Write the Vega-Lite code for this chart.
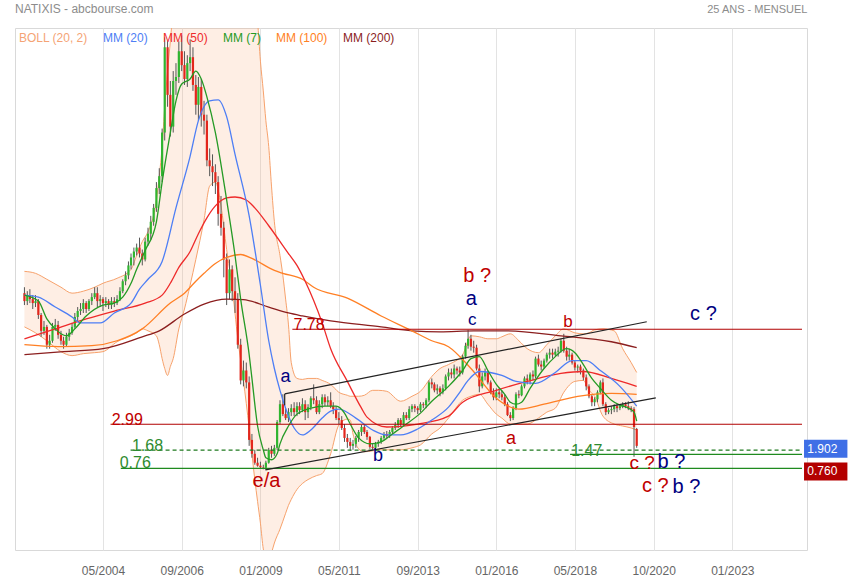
{
"$schema":"https://vega.github.io/schema/vega-lite/v6.json",
"width":792,"height":522,
"autosize":{"type":"none"},
"padding":{"left":15,"top":28,"right":48,"bottom":30},
"background":"#ffffff",
"title":{"text":"NATIXIS - abcbourse.com","anchor":"start","frame":"group","fontSize":12,"fontWeight":"normal","color":"#8c8c8c","font":"Liberation Sans","offset":-13},
"config":{"font":"Liberation Sans","view":{"stroke":"#d9d9d9","strokeWidth":1},"text":{"font":"Liberation Sans"},"legend":{"labelFont":"Liberation Sans"}},
"datasets":{
"candles":[
{"d":"2002-01","o":9.6,"h":9.9,"l":9.0,"c":9.2},{"d":"2002-02","o":9.2,"h":9.7,"l":9.0,"c":9.5},{"d":"2002-03","o":9.5,"h":9.8,"l":9.1,"c":9.3},{"d":"2002-04","o":9.3,"h":9.5,"l":8.8,"c":9.1},{"d":"2002-05","o":9.1,"h":9.5,"l":8.9,"c":9.2},{"d":"2002-06","o":9.2,"h":9.3,"l":8.3,"c":8.5},{"d":"2002-07","o":8.5,"h":8.6,"l":7.4,"c":7.7},{"d":"2002-08","o":7.7,"h":8.2,"l":7.5,"c":7.9},{"d":"2002-09","o":7.9,"h":8.0,"l":6.8,"c":7.0},{"d":"2002-10","o":7.0,"h":7.5,"l":6.8,"c":7.2},{"d":"2002-11","o":7.2,"h":8.1,"l":7.1,"c":7.9},{"d":"2002-12","o":7.9,"h":8.3,"l":7.7,"c":8.0},
{"d":"2003-01","o":8.0,"h":8.2,"l":7.3,"c":7.5},{"d":"2003-02","o":7.5,"h":7.7,"l":7.0,"c":7.2},{"d":"2003-03","o":7.2,"h":7.4,"l":6.8,"c":7.0},{"d":"2003-04","o":7.0,"h":7.6,"l":6.9,"c":7.4},{"d":"2003-05","o":7.4,"h":7.8,"l":7.2,"c":7.6},{"d":"2003-06","o":7.6,"h":8.1,"l":7.5,"c":7.9},{"d":"2003-07","o":7.9,"h":8.6,"l":7.8,"c":8.4},{"d":"2003-08","o":8.4,"h":8.9,"l":8.2,"c":8.7},{"d":"2003-09","o":8.7,"h":9.1,"l":8.5,"c":8.8},{"d":"2003-10","o":8.8,"h":9.3,"l":8.6,"c":9.1},{"d":"2003-11","o":9.1,"h":9.2,"l":8.6,"c":8.8},{"d":"2003-12","o":8.8,"h":9.3,"l":8.7,"c":9.2},
{"d":"2004-01","o":9.2,"h":9.6,"l":9.0,"c":9.4},{"d":"2004-02","o":9.4,"h":9.9,"l":9.3,"c":9.6},{"d":"2004-03","o":9.6,"h":9.9,"l":8.9,"c":9.2},{"d":"2004-04","o":9.2,"h":9.5,"l":8.9,"c":9.3},{"d":"2004-05","o":9.3,"h":9.4,"l":8.7,"c":9.1},{"d":"2004-06","o":9.1,"h":9.4,"l":8.9,"c":9.2},{"d":"2004-07","o":9.2,"h":9.3,"l":8.8,"c":9.0},{"d":"2004-08","o":9.0,"h":9.4,"l":8.8,"c":9.2},{"d":"2004-09","o":9.2,"h":9.4,"l":8.9,"c":9.1},{"d":"2004-10","o":9.1,"h":9.5,"l":9.0,"c":9.3},{"d":"2004-11","o":9.3,"h":9.9,"l":9.2,"c":9.7},{"d":"2004-12","o":9.7,"h":10.3,"l":9.6,"c":10.2},
{"d":"2005-01","o":10.2,"h":10.7,"l":10.0,"c":10.5},{"d":"2005-02","o":10.5,"h":11.2,"l":10.3,"c":11.0},{"d":"2005-03","o":11.0,"h":11.6,"l":10.8,"c":11.4},{"d":"2005-04","o":11.4,"h":11.9,"l":11.0,"c":11.7},{"d":"2005-05","o":11.7,"h":12.1,"l":11.5,"c":11.9},{"d":"2005-06","o":11.9,"h":12.4,"l":11.4,"c":11.6},{"d":"2005-07","o":11.6,"h":11.8,"l":11.0,"c":11.3},{"d":"2005-08","o":11.3,"h":12.4,"l":11.2,"c":12.2},{"d":"2005-09","o":12.2,"h":12.9,"l":12.0,"c":12.6},{"d":"2005-10","o":12.6,"h":13.5,"l":12.3,"c":13.2},{"d":"2005-11","o":13.2,"h":14.1,"l":13.0,"c":13.9},{"d":"2005-12","o":13.9,"h":15.2,"l":13.7,"c":14.9},
{"d":"2006-01","o":14.9,"h":15.9,"l":14.6,"c":15.5},{"d":"2006-02","o":15.5,"h":17.9,"l":15.2,"c":17.7},{"d":"2006-03","o":17.7,"h":22.5,"l":17.3,"c":22.0},{"d":"2006-04","o":22.0,"h":22.3,"l":19.0,"c":19.6},{"d":"2006-05","o":19.6,"h":20.3,"l":17.5,"c":18.0},{"d":"2006-06","o":18.0,"h":20.8,"l":17.7,"c":20.3},{"d":"2006-07","o":20.3,"h":21.2,"l":19.6,"c":20.5},{"d":"2006-08","o":20.5,"h":22.3,"l":20.2,"c":21.8},{"d":"2006-09","o":21.8,"h":22.6,"l":20.8,"c":21.1},{"d":"2006-10","o":21.1,"h":21.8,"l":20.1,"c":20.4},{"d":"2006-11","o":20.4,"h":21.6,"l":20.0,"c":21.2},{"d":"2006-12","o":21.2,"h":22.4,"l":20.8,"c":21.5},
{"d":"2007-01","o":21.5,"h":22.0,"l":19.8,"c":20.1},{"d":"2007-02","o":20.1,"h":20.6,"l":18.6,"c":19.1},{"d":"2007-03","o":19.1,"h":20.5,"l":18.3,"c":20.0},{"d":"2007-04","o":20.0,"h":20.4,"l":18.0,"c":18.6},{"d":"2007-05","o":18.6,"h":19.3,"l":17.6,"c":18.3},{"d":"2007-06","o":18.3,"h":18.6,"l":16.0,"c":16.3},{"d":"2007-07","o":16.3,"h":16.9,"l":15.5,"c":16.0},{"d":"2007-08","o":16.0,"h":16.6,"l":15.0,"c":15.7},{"d":"2007-09","o":15.7,"h":16.1,"l":14.6,"c":15.2},{"d":"2007-10","o":15.2,"h":15.5,"l":13.0,"c":13.6},{"d":"2007-11","o":13.6,"h":14.5,"l":12.5,"c":12.9},{"d":"2007-12","o":12.9,"h":13.2,"l":10.4,"c":11.3},
{"d":"2008-01","o":11.3,"h":11.6,"l":9.0,"c":9.6},{"d":"2008-02","o":9.6,"h":11.3,"l":9.3,"c":10.8},{"d":"2008-03","o":10.8,"h":11.0,"l":9.2,"c":9.7},{"d":"2008-04","o":9.7,"h":10.4,"l":8.6,"c":9.3},{"d":"2008-05","o":9.3,"h":9.6,"l":6.8,"c":7.0},{"d":"2008-06","o":7.0,"h":7.3,"l":5.0,"c":5.2},{"d":"2008-07","o":5.2,"h":6.2,"l":4.9,"c":5.7},{"d":"2008-08","o":5.7,"h":6.1,"l":4.8,"c":5.1},{"d":"2008-09","o":5.1,"h":5.4,"l":1.9,"c":2.2},{"d":"2008-10","o":2.2,"h":2.5,"l":1.3,"c":1.5},{"d":"2008-11","o":1.5,"h":1.7,"l":0.95,"c":1.05},{"d":"2008-12","o":1.05,"h":1.3,"l":0.85,"c":0.9},
{"d":"2009-01","o":0.9,"h":1.1,"l":0.78,"c":0.82},{"d":"2009-02","o":0.82,"h":0.95,"l":0.72,"c":0.8},{"d":"2009-03","o":0.8,"h":1.15,"l":0.7,"c":1.05},{"d":"2009-04","o":1.05,"h":1.8,"l":1.0,"c":1.7},{"d":"2009-05","o":1.7,"h":1.9,"l":1.3,"c":1.5},{"d":"2009-06","o":1.5,"h":1.95,"l":1.4,"c":1.8},{"d":"2009-07","o":1.8,"h":3.2,"l":1.7,"c":3.1},{"d":"2009-08","o":3.1,"h":4.2,"l":3.0,"c":4.0},{"d":"2009-09","o":4.0,"h":4.5,"l":3.4,"c":3.5},{"d":"2009-10","o":3.5,"h":3.8,"l":3.2,"c":3.3},{"d":"2009-11","o":3.3,"h":3.8,"l":3.1,"c":3.6},{"d":"2009-12","o":3.6,"h":4.0,"l":3.4,"c":3.8},
{"d":"2010-01","o":3.8,"h":4.1,"l":3.4,"c":3.6},{"d":"2010-02","o":3.6,"h":4.1,"l":3.4,"c":3.9},{"d":"2010-03","o":3.9,"h":4.1,"l":3.5,"c":3.7},{"d":"2010-04","o":3.7,"h":4.3,"l":3.6,"c":4.0},{"d":"2010-05","o":4.0,"h":4.2,"l":3.2,"c":3.6},{"d":"2010-06","o":3.6,"h":4.0,"l":3.3,"c":3.85},{"d":"2010-07","o":3.85,"h":4.4,"l":3.7,"c":4.3},{"d":"2010-08","o":4.3,"h":5.0,"l":4.0,"c":4.2},{"d":"2010-09","o":4.2,"h":4.4,"l":3.5,"c":3.6},{"d":"2010-10","o":3.6,"h":4.2,"l":3.5,"c":4.0},{"d":"2010-11","o":4.0,"h":4.5,"l":3.8,"c":4.35},{"d":"2010-12","o":4.35,"h":4.5,"l":3.9,"c":4.1},
{"d":"2011-01","o":4.1,"h":4.4,"l":3.9,"c":4.2},{"d":"2011-02","o":4.2,"h":4.6,"l":3.8,"c":3.9},{"d":"2011-03","o":3.9,"h":4.1,"l":3.5,"c":3.75},{"d":"2011-04","o":3.75,"h":3.9,"l":3.2,"c":3.3},{"d":"2011-05","o":3.3,"h":3.6,"l":3.0,"c":3.2},{"d":"2011-06","o":3.2,"h":3.4,"l":2.7,"c":2.8},{"d":"2011-07","o":2.8,"h":3.0,"l":2.1,"c":2.3},{"d":"2011-08","o":2.3,"h":2.5,"l":1.8,"c":2.1},{"d":"2011-09","o":2.1,"h":2.3,"l":1.65,"c":1.9},{"d":"2011-10","o":1.9,"h":2.2,"l":1.7,"c":2.0},{"d":"2011-11","o":2.0,"h":2.4,"l":1.8,"c":2.3},{"d":"2011-12","o":2.3,"h":2.7,"l":2.1,"c":2.6},
{"d":"2012-01","o":2.6,"h":2.95,"l":2.4,"c":2.85},{"d":"2012-02","o":2.85,"h":3.0,"l":2.5,"c":2.6},{"d":"2012-03","o":2.6,"h":2.7,"l":2.2,"c":2.35},{"d":"2012-04","o":2.35,"h":2.4,"l":1.75,"c":1.85},{"d":"2012-05","o":1.85,"h":2.0,"l":1.7,"c":1.8},{"d":"2012-06","o":1.8,"h":2.1,"l":1.7,"c":2.0},{"d":"2012-07","o":2.0,"h":2.2,"l":1.85,"c":2.1},{"d":"2012-08","o":2.1,"h":2.4,"l":2.0,"c":2.3},{"d":"2012-09","o":2.3,"h":2.6,"l":2.2,"c":2.5},{"d":"2012-10","o":2.5,"h":2.65,"l":2.3,"c":2.4},{"d":"2012-11","o":2.4,"h":2.7,"l":2.3,"c":2.6},{"d":"2012-12","o":2.6,"h":2.9,"l":2.5,"c":2.8},
{"d":"2013-01","o":2.8,"h":3.1,"l":2.7,"c":2.95},{"d":"2013-02","o":2.95,"h":3.3,"l":2.8,"c":3.2},{"d":"2013-03","o":3.2,"h":3.3,"l":2.9,"c":3.0},{"d":"2013-04","o":3.0,"h":3.6,"l":2.9,"c":3.45},{"d":"2013-05","o":3.45,"h":3.6,"l":3.2,"c":3.3},{"d":"2013-06","o":3.3,"h":3.9,"l":3.2,"c":3.75},{"d":"2013-07","o":3.75,"h":4.0,"l":3.6,"c":3.9},{"d":"2013-08","o":3.9,"h":4.0,"l":3.6,"c":3.8},{"d":"2013-09","o":3.8,"h":3.9,"l":3.5,"c":3.7},{"d":"2013-10","o":3.7,"h":4.1,"l":3.6,"c":4.0},{"d":"2013-11","o":4.0,"h":4.1,"l":3.8,"c":3.95},{"d":"2013-12","o":3.95,"h":4.3,"l":3.8,"c":4.2},
{"d":"2014-01","o":4.2,"h":5.2,"l":4.1,"c":5.1},{"d":"2014-02","o":5.1,"h":5.3,"l":4.8,"c":5.0},{"d":"2014-03","o":5.0,"h":5.1,"l":4.6,"c":4.7},{"d":"2014-04","o":4.7,"h":5.0,"l":4.5,"c":4.8},{"d":"2014-05","o":4.8,"h":4.9,"l":4.4,"c":4.6},{"d":"2014-06","o":4.6,"h":5.0,"l":4.5,"c":4.8},{"d":"2014-07","o":4.8,"h":5.5,"l":4.7,"c":5.4},{"d":"2014-08","o":5.4,"h":5.8,"l":5.2,"c":5.6},{"d":"2014-09","o":5.6,"h":5.8,"l":5.3,"c":5.5},{"d":"2014-10","o":5.5,"h":6.0,"l":5.3,"c":5.8},{"d":"2014-11","o":5.8,"h":5.9,"l":5.5,"c":5.7},{"d":"2014-12","o":5.7,"h":5.9,"l":5.4,"c":5.6},
{"d":"2015-01","o":5.6,"h":6.5,"l":5.5,"c":6.4},{"d":"2015-02","o":6.4,"h":7.1,"l":6.3,"c":6.95},{"d":"2015-03","o":6.95,"h":7.75,"l":6.8,"c":7.3},{"d":"2015-04","o":7.3,"h":7.5,"l":6.7,"c":6.9},{"d":"2015-05","o":6.9,"h":7.2,"l":6.6,"c":6.85},{"d":"2015-06","o":6.85,"h":7.0,"l":5.7,"c":5.8},{"d":"2015-07","o":5.8,"h":6.0,"l":4.6,"c":4.9},{"d":"2015-08","o":4.9,"h":5.6,"l":4.8,"c":5.4},{"d":"2015-09","o":5.4,"h":5.8,"l":5.2,"c":5.6},{"d":"2015-10","o":5.6,"h":5.7,"l":5.0,"c":5.1},{"d":"2015-11","o":5.1,"h":5.2,"l":4.5,"c":4.6},{"d":"2015-12","o":4.6,"h":4.8,"l":4.2,"c":4.35},
{"d":"2016-01","o":4.35,"h":4.8,"l":4.2,"c":4.6},{"d":"2016-02","o":4.6,"h":4.8,"l":4.3,"c":4.5},{"d":"2016-03","o":4.5,"h":4.7,"l":4.2,"c":4.35},{"d":"2016-04","o":4.35,"h":4.5,"l":3.9,"c":4.0},{"d":"2016-05","o":4.0,"h":4.1,"l":3.4,"c":3.45},{"d":"2016-06","o":3.45,"h":3.6,"l":3.15,"c":3.3},{"d":"2016-07","o":3.3,"h":3.9,"l":3.2,"c":3.8},{"d":"2016-08","o":3.8,"h":4.6,"l":3.7,"c":4.5},{"d":"2016-09","o":4.5,"h":4.7,"l":4.3,"c":4.45},{"d":"2016-10","o":4.45,"h":5.0,"l":4.4,"c":4.9},{"d":"2016-11","o":4.9,"h":5.4,"l":4.8,"c":5.3},{"d":"2016-12","o":5.3,"h":5.5,"l":5.0,"c":5.2},
{"d":"2017-01","o":5.2,"h":5.6,"l":5.0,"c":5.5},{"d":"2017-02","o":5.5,"h":5.7,"l":5.2,"c":5.4},{"d":"2017-03","o":5.4,"h":6.4,"l":5.3,"c":6.3},{"d":"2017-04","o":6.3,"h":6.5,"l":5.9,"c":6.0},{"d":"2017-05","o":6.0,"h":6.2,"l":5.7,"c":5.9},{"d":"2017-06","o":5.9,"h":6.3,"l":5.8,"c":6.2},{"d":"2017-07","o":6.2,"h":6.6,"l":6.1,"c":6.5},{"d":"2017-08","o":6.5,"h":6.8,"l":6.3,"c":6.6},{"d":"2017-09","o":6.6,"h":6.8,"l":6.3,"c":6.5},{"d":"2017-10","o":6.5,"h":6.8,"l":6.4,"c":6.65},{"d":"2017-11","o":6.65,"h":6.9,"l":6.4,"c":6.7},{"d":"2017-12","o":6.7,"h":7.3,"l":6.6,"c":7.2},
{"d":"2018-01","o":7.2,"h":7.55,"l":6.6,"c":6.7},{"d":"2018-02","o":6.7,"h":6.9,"l":6.2,"c":6.4},{"d":"2018-03","o":6.4,"h":6.8,"l":6.2,"c":6.5},{"d":"2018-04","o":6.5,"h":6.6,"l":6.0,"c":6.1},{"d":"2018-05","o":6.1,"h":6.2,"l":5.7,"c":5.85},{"d":"2018-06","o":5.85,"h":6.0,"l":5.6,"c":5.9},{"d":"2018-07","o":5.9,"h":6.0,"l":5.5,"c":5.7},{"d":"2018-08","o":5.7,"h":5.8,"l":5.2,"c":5.35},{"d":"2018-09","o":5.35,"h":5.5,"l":4.7,"c":4.9},{"d":"2018-10","o":4.9,"h":5.0,"l":4.3,"c":4.4},{"d":"2018-11","o":4.4,"h":4.5,"l":3.9,"c":4.1},{"d":"2018-12","o":4.1,"h":4.35,"l":3.9,"c":4.25},
{"d":"2019-01","o":4.25,"h":4.7,"l":4.1,"c":4.6},{"d":"2019-02","o":4.6,"h":5.2,"l":4.5,"c":5.1},{"d":"2019-03","o":5.1,"h":5.3,"l":3.9,"c":4.0},{"d":"2019-04","o":4.0,"h":4.1,"l":3.45,"c":3.6},{"d":"2019-05","o":3.6,"h":3.8,"l":3.5,"c":3.7},{"d":"2019-06","o":3.7,"h":3.9,"l":3.5,"c":3.75},{"d":"2019-07","o":3.75,"h":4.0,"l":3.6,"c":3.9},{"d":"2019-08","o":3.9,"h":4.0,"l":3.6,"c":3.8},{"d":"2019-09","o":3.8,"h":4.0,"l":3.7,"c":3.9},{"d":"2019-10","o":3.9,"h":4.1,"l":3.8,"c":4.0},{"d":"2019-11","o":4.0,"h":4.1,"l":3.8,"c":3.9},{"d":"2019-12","o":3.9,"h":4.15,"l":3.7,"c":3.8},
{"d":"2020-01","o":3.8,"h":3.9,"l":3.6,"c":3.75},{"d":"2020-02","o":3.75,"h":3.85,"l":1.35,"c":2.85},{"d":"2020-03","o":2.75,"h":2.8,"l":1.8,"c":1.9}
],
"boll":[
{"d":"2002-01","lo":7.9,"up":10.7},{"d":"2002-05","lo":7.6,"up":10.6},{"d":"2002-09","lo":7.2,"up":10.3},{"d":"2003-02","lo":6.65,"up":9.9},{"d":"2003-06","lo":6.45,"up":9.6},{"d":"2003-10","lo":6.55,"up":9.7},{"d":"2004-02","lo":6.6,"up":9.9},{"d":"2004-05","lo":6.65,"up":10.1},{"d":"2004-10","lo":7.15,"up":10.35},{"d":"2005-03","lo":7.45,"up":10.8},{"d":"2005-05","lo":7.6,"up":11.5},{"d":"2005-07","lo":7.8,"up":12.2},{"d":"2005-09","lo":7.7,"up":12.7},{"d":"2005-12","lo":7.45,"up":14.3},{"d":"2006-01","lo":7.0,"up":15.5},{"d":"2006-02","lo":6.3,"up":17.0},{"d":"2006-03","lo":5.8,"up":19.0},{"d":"2006-04","lo":5.45,"up":20.8},{"d":"2006-05","lo":5.9,"up":22.3},{"d":"2006-06","lo":6.3,"up":24.0},{"d":"2006-08","lo":7.8,"up":26.0},{"d":"2006-10","lo":8.8,"up":27.5},{"d":"2006-12","lo":10.0,"up":28.5},{"d":"2007-02","lo":11.3,"up":29.0},{"d":"2007-05","lo":13.3,"up":29.0},{"d":"2007-07","lo":15.0,"up":28.5},{"d":"2007-09","lo":15.2,"up":28.0},{"d":"2007-11","lo":14.0,"up":27.5},{"d":"2008-01","lo":11.8,"up":27.5},{"d":"2008-03","lo":9.9,"up":27.5},{"d":"2008-05","lo":7.3,"up":27.5},{"d":"2008-07","lo":5.2,"up":27.0},{"d":"2008-09","lo":2.8,"up":26.0},{"d":"2008-11","lo":0.2,"up":24.5},{"d":"2008-12","lo":-0.9,"up":23.3},{"d":"2009-01","lo":-2.0,"up":21.3},{"d":"2009-02","lo":-3.3,"up":19.8},{"d":"2009-03","lo":-3.8,"up":18.3},{"d":"2009-04","lo":-3.9,"up":17.0},{"d":"2009-05","lo":-3.5,"up":15.0},{"d":"2009-06","lo":-3.0,"up":13.2},{"d":"2009-08","lo":-2.3,"up":11.5},{"d":"2009-09","lo":-1.9,"up":10.5},{"d":"2009-10","lo":-1.5,"up":9.3},{"d":"2009-11","lo":-1.1,"up":8.0},{"d":"2009-12","lo":-0.8,"up":6.1},{"d":"2010-02","lo":-0.3,"up":5.3},{"d":"2010-04","lo":0.0,"up":5.25},{"d":"2010-06","lo":0.2,"up":5.3},{"d":"2010-09","lo":0.4,"up":5.3},{"d":"2010-11","lo":0.5,"up":5.2},{"d":"2011-02","lo":1.5,"up":5.0},{"d":"2011-05","lo":2.95,"up":4.6},{"d":"2011-08","lo":3.25,"up":4.45},{"d":"2011-09","lo":3.2,"up":4.4},{"d":"2011-10","lo":2.5,"up":4.4},{"d":"2011-12","lo":1.75,"up":4.4},{"d":"2012-02","lo":1.6,"up":4.45},{"d":"2012-05","lo":1.65,"up":4.7},{"d":"2012-07","lo":1.7,"up":4.7},{"d":"2012-10","lo":1.7,"up":4.65},{"d":"2013-03","lo":1.7,"up":4.15},{"d":"2013-07","lo":1.8,"up":4.4},{"d":"2013-10","lo":1.95,"up":4.65},{"d":"2014-02","lo":2.5,"up":5.4},{"d":"2014-05","lo":2.8,"up":5.8},{"d":"2014-08","lo":3.3,"up":6.0},{"d":"2015-01","lo":4.2,"up":6.5},{"d":"2015-04","lo":4.4,"up":7.45},{"d":"2015-07","lo":4.5,"up":7.4},{"d":"2015-10","lo":4.0,"up":7.3},{"d":"2016-01","lo":3.5,"up":7.3},{"d":"2016-03","lo":3.3,"up":7.4},{"d":"2016-06","lo":3.0,"up":7.55},{"d":"2016-09","lo":3.0,"up":7.2},{"d":"2016-12","lo":3.0,"up":6.8},{"d":"2017-04","lo":3.3,"up":6.6},{"d":"2017-07","lo":3.6,"up":7.0},{"d":"2017-10","lo":3.8,"up":7.45},{"d":"2018-01","lo":4.6,"up":7.8},{"d":"2018-05","lo":5.15,"up":7.6},{"d":"2018-08","lo":5.2,"up":7.55},{"d":"2018-10","lo":4.7,"up":7.6},{"d":"2018-12","lo":4.4,"up":7.75},{"d":"2019-03","lo":3.4,"up":7.8},{"d":"2019-07","lo":3.0,"up":7.7},{"d":"2019-10","lo":2.9,"up":6.8},{"d":"2020-01","lo":2.8,"up":6.1},{"d":"2020-03","lo":2.7,"up":5.6}
],
"ma":[
{"s":"MM (200)","d":"2002-01","v":6.5},{"s":"MM (200)","d":"2003-03","v":6.65},{"s":"MM (200)","d":"2004-05","v":6.8},{"s":"MM (200)","d":"2005-07","v":7.4},{"s":"MM (200)","d":"2006-01","v":7.7},{"s":"MM (200)","d":"2006-10","v":8.55},{"s":"MM (200)","d":"2007-05","v":9.05},{"s":"MM (200)","d":"2008-01","v":9.3},{"s":"MM (200)","d":"2008-07","v":9.27},{"s":"MM (200)","d":"2009-04","v":8.9},{"s":"MM (200)","d":"2009-11","v":8.6},{"s":"MM (200)","d":"2010-04","v":8.45},{"s":"MM (200)","d":"2011-02","v":8.2},{"s":"MM (200)","d":"2012-08","v":7.9},{"s":"MM (200)","d":"2013-07","v":7.7},{"s":"MM (200)","d":"2014-05","v":7.65},{"s":"MM (200)","d":"2015-05","v":7.7},{"s":"MM (200)","d":"2016-04","v":7.7},{"s":"MM (200)","d":"2017-12","v":7.45},{"s":"MM (200)","d":"2019-06","v":7.15},{"s":"MM (200)","d":"2020-03","v":6.85},
{"s":"MM (100)","d":"2002-01","v":7.0},{"s":"MM (100)","d":"2003-01","v":6.9},{"s":"MM (100)","d":"2004-01","v":6.95},{"s":"MM (100)","d":"2004-10","v":7.2},{"s":"MM (100)","d":"2005-07","v":7.8},{"s":"MM (100)","d":"2006-05","v":9.1},{"s":"MM (100)","d":"2006-10","v":9.6},{"s":"MM (100)","d":"2007-02","v":10.2},{"s":"MM (100)","d":"2007-05","v":10.6},{"s":"MM (100)","d":"2007-09","v":11.1},{"s":"MM (100)","d":"2008-01","v":11.4},{"s":"MM (100)","d":"2008-06","v":11.55},{"s":"MM (100)","d":"2008-10","v":11.35},{"s":"MM (100)","d":"2009-06","v":10.75},{"s":"MM (100)","d":"2009-09","v":10.6},{"s":"MM (100)","d":"2010-04","v":10.3},{"s":"MM (100)","d":"2010-08","v":9.9},{"s":"MM (100)","d":"2011-08","v":9.35},{"s":"MM (100)","d":"2012-08","v":8.45},{"s":"MM (100)","d":"2013-07","v":7.7},{"s":"MM (100)","d":"2014-02","v":7.2},{"s":"MM (100)","d":"2014-08","v":6.9},{"s":"MM (100)","d":"2015-04","v":5.8},{"s":"MM (100)","d":"2016-01","v":4.3},{"s":"MM (100)","d":"2016-09","v":3.75},{"s":"MM (100)","d":"2017-06","v":4.0},{"s":"MM (100)","d":"2018-06","v":4.4},{"s":"MM (100)","d":"2019-06","v":4.55},{"s":"MM (100)","d":"2020-03","v":4.5},
{"s":"MM (50)","d":"2002-01","v":7.3},{"s":"MM (50)","d":"2002-12","v":7.8},{"s":"MM (50)","d":"2003-11","v":8.3},{"s":"MM (50)","d":"2004-09","v":8.7},{"s":"MM (50)","d":"2005-08","v":9.1},{"s":"MM (50)","d":"2006-02","v":9.5},{"s":"MM (50)","d":"2006-05","v":10.1},{"s":"MM (50)","d":"2006-08","v":10.9},{"s":"MM (50)","d":"2006-12","v":11.7},{"s":"MM (50)","d":"2007-03","v":12.6},{"s":"MM (50)","d":"2007-06","v":13.4},{"s":"MM (50)","d":"2007-09","v":14.0},{"s":"MM (50)","d":"2008-01","v":14.4},{"s":"MM (50)","d":"2008-04","v":14.45},{"s":"MM (50)","d":"2008-08","v":14.3},{"s":"MM (50)","d":"2008-11","v":13.9},{"s":"MM (50)","d":"2009-04","v":13.0},{"s":"MM (50)","d":"2009-11","v":11.6},{"s":"MM (50)","d":"2010-02","v":11.0},{"s":"MM (50)","d":"2010-05","v":10.2},{"s":"MM (50)","d":"2010-11","v":8.1},{"s":"MM (50)","d":"2011-02","v":6.8},{"s":"MM (50)","d":"2011-08","v":5.15},{"s":"MM (50)","d":"2012-01","v":3.8},{"s":"MM (50)","d":"2012-03","v":3.35},{"s":"MM (50)","d":"2012-10","v":2.85},{"s":"MM (50)","d":"2013-09","v":3.0},{"s":"MM (50)","d":"2014-08","v":3.4},{"s":"MM (50)","d":"2015-01","v":4.1},{"s":"MM (50)","d":"2016-01","v":4.7},{"s":"MM (50)","d":"2016-12","v":5.15},{"s":"MM (50)","d":"2017-12","v":5.55},{"s":"MM (50)","d":"2018-08","v":5.65},{"s":"MM (50)","d":"2019-06","v":5.3},{"s":"MM (50)","d":"2020-03","v":4.9},
{"s":"MM (20)","d":"2002-01","v":9.5},{"s":"MM (20)","d":"2002-06","v":9.4},{"s":"MM (20)","d":"2002-12","v":8.9},{"s":"MM (20)","d":"2003-06","v":8.4},{"s":"MM (20)","d":"2003-09","v":8.1},{"s":"MM (20)","d":"2004-04","v":8.1},{"s":"MM (20)","d":"2004-09","v":8.6},{"s":"MM (20)","d":"2005-03","v":9.1},{"s":"MM (20)","d":"2005-06","v":9.8},{"s":"MM (20)","d":"2005-09","v":10.3},{"s":"MM (20)","d":"2006-02","v":11.2},{"s":"MM (20)","d":"2006-07","v":13.9},{"s":"MM (20)","d":"2006-12","v":16.5},{"s":"MM (20)","d":"2007-03","v":18.3},{"s":"MM (20)","d":"2007-07","v":19.3},{"s":"MM (20)","d":"2007-10","v":19.35},{"s":"MM (20)","d":"2008-01","v":18.5},{"s":"MM (20)","d":"2008-04","v":16.6},{"s":"MM (20)","d":"2008-09","v":13.5},{"s":"MM (20)","d":"2009-01","v":10.0},{"s":"MM (20)","d":"2009-04","v":7.2},{"s":"MM (20)","d":"2009-06","v":5.8},{"s":"MM (20)","d":"2009-08","v":4.7},{"s":"MM (20)","d":"2009-10","v":3.8},{"s":"MM (20)","d":"2010-01","v":2.8},{"s":"MM (20)","d":"2010-04","v":2.45},{"s":"MM (20)","d":"2010-07","v":2.7},{"s":"MM (20)","d":"2010-11","v":3.3},{"s":"MM (20)","d":"2011-02","v":3.65},{"s":"MM (20)","d":"2011-05","v":3.75},{"s":"MM (20)","d":"2011-11","v":3.3},{"s":"MM (20)","d":"2012-05","v":2.7},{"s":"MM (20)","d":"2012-10","v":2.45},{"s":"MM (20)","d":"2013-03","v":2.45},{"s":"MM (20)","d":"2013-09","v":2.75},{"s":"MM (20)","d":"2014-02","v":3.2},{"s":"MM (20)","d":"2014-08","v":3.85},{"s":"MM (20)","d":"2014-12","v":4.6},{"s":"MM (20)","d":"2015-03","v":5.2},{"s":"MM (20)","d":"2015-07","v":5.65},{"s":"MM (20)","d":"2016-03","v":5.45},{"s":"MM (20)","d":"2016-08","v":5.15},{"s":"MM (20)","d":"2017-03","v":5.05},{"s":"MM (20)","d":"2017-10","v":5.6},{"s":"MM (20)","d":"2018-04","v":6.2},{"s":"MM (20)","d":"2018-09","v":6.2},{"s":"MM (20)","d":"2019-02","v":5.7},{"s":"MM (20)","d":"2019-09","v":4.9},{"s":"MM (20)","d":"2020-03","v":3.9},
{"s":"MM (7)","d":"2002-01","v":9.5},{"s":"MM (7)","d":"2002-06","v":9.2},{"s":"MM (7)","d":"2002-09","v":8.3},{"s":"MM (7)","d":"2002-12","v":7.8},{"s":"MM (7)","d":"2003-02","v":7.55},{"s":"MM (7)","d":"2003-04","v":7.45},{"s":"MM (7)","d":"2003-07","v":7.8},{"s":"MM (7)","d":"2003-11","v":8.45},{"s":"MM (7)","d":"2004-05","v":9.0},{"s":"MM (7)","d":"2004-09","v":9.1},{"s":"MM (7)","d":"2004-12","v":9.4},{"s":"MM (7)","d":"2005-03","v":10.1},{"s":"MM (7)","d":"2005-05","v":10.8},{"s":"MM (7)","d":"2005-08","v":11.75},{"s":"MM (7)","d":"2005-12","v":13.2},{"s":"MM (7)","d":"2006-02","v":15.2},{"s":"MM (7)","d":"2006-05","v":17.7},{"s":"MM (7)","d":"2006-07","v":19.3},{"s":"MM (7)","d":"2006-09","v":20.15},{"s":"MM (7)","d":"2006-12","v":20.4},{"s":"MM (7)","d":"2007-02","v":20.8},{"s":"MM (7)","d":"2007-04","v":20.4},{"s":"MM (7)","d":"2007-06","v":19.5},{"s":"MM (7)","d":"2007-09","v":17.7},{"s":"MM (7)","d":"2008-01","v":14.3},{"s":"MM (7)","d":"2008-04","v":11.5},{"s":"MM (7)","d":"2008-06","v":9.3},{"s":"MM (7)","d":"2008-09","v":6.5},{"s":"MM (7)","d":"2008-10","v":5.3},{"s":"MM (7)","d":"2008-12","v":2.9},{"s":"MM (7)","d":"2009-02","v":1.7},{"s":"MM (7)","d":"2009-03","v":1.3},{"s":"MM (7)","d":"2009-05","v":1.2},{"s":"MM (7)","d":"2009-07","v":1.5},{"s":"MM (7)","d":"2009-08","v":2.0},{"s":"MM (7)","d":"2009-11","v":2.9},{"s":"MM (7)","d":"2010-02","v":3.5},{"s":"MM (7)","d":"2010-07","v":3.8},{"s":"MM (7)","d":"2010-12","v":3.9},{"s":"MM (7)","d":"2011-04","v":3.9},{"s":"MM (7)","d":"2011-07","v":3.55},{"s":"MM (7)","d":"2011-09","v":3.0},{"s":"MM (7)","d":"2011-12","v":2.3},{"s":"MM (7)","d":"2012-04","v":2.0},{"s":"MM (7)","d":"2012-08","v":2.1},{"s":"MM (7)","d":"2012-12","v":2.5},{"s":"MM (7)","d":"2013-05","v":3.0},{"s":"MM (7)","d":"2013-10","v":3.55},{"s":"MM (7)","d":"2014-02","v":4.15},{"s":"MM (7)","d":"2014-08","v":4.9},{"s":"MM (7)","d":"2015-01","v":5.7},{"s":"MM (7)","d":"2015-04","v":6.3},{"s":"MM (7)","d":"2015-07","v":6.4},{"s":"MM (7)","d":"2015-10","v":5.7},{"s":"MM (7)","d":"2016-01","v":5.0},{"s":"MM (7)","d":"2016-04","v":4.5},{"s":"MM (7)","d":"2016-06","v":4.1},{"s":"MM (7)","d":"2016-08","v":4.0},{"s":"MM (7)","d":"2016-10","v":4.1},{"s":"MM (7)","d":"2017-01","v":4.8},{"s":"MM (7)","d":"2017-06","v":5.8},{"s":"MM (7)","d":"2017-10","v":6.4},{"s":"MM (7)","d":"2018-02","v":6.8},{"s":"MM (7)","d":"2018-05","v":6.6},{"s":"MM (7)","d":"2018-08","v":6.0},{"s":"MM (7)","d":"2018-11","v":5.3},{"s":"MM (7)","d":"2019-02","v":4.8},{"s":"MM (7)","d":"2019-06","v":4.2},{"s":"MM (7)","d":"2019-09","v":3.95},{"s":"MM (7)","d":"2019-12","v":3.8},{"s":"MM (7)","d":"2020-02","v":3.6},{"s":"MM (7)","d":"2020-03","v":3.15}
],
"segs":[
{"k":"red","d":"2009-12-13","d2":"2025-01-25","v":7.78,"v2":7.78},
{"k":"red","d":"2004-07-22","d2":"2025-01-25","v":2.99,"v2":2.99},
{"k":"green","d":"2004-11-10","d2":"2025-01-25","v":0.76,"v2":0.76},
{"k":"green","d":"2018-03-10","d2":"2025-01-25","v":1.47,"v2":1.47},
{"k":"dash","d":"2005-02-24","d2":"2025-01-25","v":1.68,"v2":1.68},
{"k":"black","d":"2009-09-21","d2":"2020-06-18","v":4.52,"v2":8.16},
{"k":"black","d":"2009-02-24","d2":"2020-09-24","v":0.69,"v2":4.32},
{"k":"black","d":"2009-09-21","d2":"2009-09-21","v":4.52,"v2":3.95}
],
"ann":[
{"t":"b ?","d":"2015-06-07","v":10.45,"tone":"red","r":"l"},
{"t":"a","d":"2015-04-04","v":9.32,"tone":"navy","r":"l"},
{"t":"c","d":"2015-04-14","v":8.25,"tone":"navy","r":"xs"},
{"t":"b","d":"2018-02-15","v":8.15,"tone":"red","r":"xs"},
{"t":"c ?","d":"2022-02-22","v":8.53,"tone":"navy","r":"l"},
{"t":"7.78","d":"2010-06-12","v":8.0,"tone":"red","r":"lv"},
{"t":"a","d":"2009-10-01","v":5.36,"tone":"navy","r":"s"},
{"t":"2.99","d":"2005-01-19","v":3.2,"tone":"red","r":"lv"},
{"t":"1.68","d":"2005-08-26","v":1.9,"tone":"green","r":"lv"},
{"t":"0.76","d":"2005-04-16","v":1.02,"tone":"green","r":"lv"},
{"t":"e/a","d":"2009-03-07","v":0.11,"tone":"red","r":"l"},
{"t":"b","d":"2012-06-28","v":1.4,"tone":"navy","r":"s"},
{"t":"a","d":"2016-06-07","v":2.26,"tone":"red","r":"s"},
{"t":"1.47","d":"2018-09-07","v":1.65,"tone":"green","r":"lv"},
{"t":"c ?","d":"2020-04-28","v":1.02,"tone":"red","r":"m"},
{"t":"b ?","d":"2021-03-13","v":1.1,"tone":"navy","r":"l"},
{"t":"c ?","d":"2020-09-19","v":-0.1,"tone":"red","r":"l"},
{"t":"b ?","d":"2021-08-22","v":-0.17,"tone":"navy","r":"l"}
],
"last":[{"t":"1.902","v":1.902,"k":"blue"},{"t":"0.760","v":0.76,"k":"red"}]
},
"resolve":{"axis":{"x":"independent"}},
"layer":[
{"data":{"name":"boll"},"mark":{"type":"area","color":"#f9a36b","opacity":0.18,"interpolate":"monotone","clip":true},
"encoding":{
"x":{"field":"d","type":"temporal","scale":{"domain":[{"year":2001,"month":11,"date":14,"utc":true},{"year":2025,"month":1,"date":25,"utc":true}]},
"axis":{"orient":"bottom","values":[{"year":2004,"month":5,"date":1,"utc":true},{"year":2006,"month":9,"date":1,"utc":true},{"year":2009,"month":1,"date":1,"utc":true},{"year":2011,"month":5,"date":1,"utc":true},{"year":2013,"month":9,"date":1,"utc":true},{"year":2016,"month":1,"date":1,"utc":true},{"year":2018,"month":5,"date":1,"utc":true},{"year":2020,"month":9,"date":1,"utc":true},{"year":2023,"month":1,"date":1,"utc":true}],"labelExpr":"utcFormat(datum.value, '%m/%Y') == '09/2020' ? '10/2020' : utcFormat(datum.value, '%m/%Y')","title":null,"grid":true,"gridColor":"#e3e3e3","ticks":false,"domain":false,"labelColor":"#666666","labelFontSize":12,"labelPadding":15,"labelFont":"Liberation Sans","labelDx":3,"labelOverlap":false}},
"y":{"field":"lo","type":"quantitative","scale":{"domain":[-3.1,22.72],"nice":false,"zero":false},
"axis":{"orient":"right","values":[-2,0,2,4,6,8,10,12,14,16,18,20,22],"labelExpr":"datum.value >= 5 ? format(datum.value, '.2f') : replace(format(datum.value, '.3f'), '\u2212', '-')","title":null,"grid":true,"gridColor":"#e3e3e3","ticks":false,"domain":false,"labelColor":"#666666","labelFontSize":11,"labelPadding":5,"labelFont":"Liberation Sans","labelOverlap":false}},
"y2":{"field":"up"}}},
{"data":{"name":"boll"},"mark":{"type":"line","color":"#f7a26c","strokeWidth":1,"interpolate":"monotone","clip":true},
"encoding":{"x":{"field":"d","type":"temporal","axis":{"orient":"top","labels":false,"ticks":false,"domain":false,"grid":false,"title":"25 ANS - MENSUEL","titleAnchor":"end","titleAlign":"right","titleColor":"#8c8c8c","titleFontSize":11,"titleFontWeight":"normal","titleFont":"Liberation Sans","titlePadding":14}},"y":{"field":"up","type":"quantitative","axis":null}}},
{"data":{"name":"boll"},"mark":{"type":"line","color":"#f7a26c","strokeWidth":1,"interpolate":"monotone","clip":true},
"encoding":{"x":{"field":"d","type":"temporal","axis":null},"y":{"field":"lo","type":"quantitative","axis":null}}},
{"data":{"name":"candles"},"mark":{"type":"rule","color":"#555555","strokeWidth":1},
"encoding":{"x":{"field":"d","type":"temporal","axis":null},"y":{"field":"l","type":"quantitative","axis":null},"y2":{"field":"h"}}},
{"data":{"name":"candles"},"mark":{"type":"bar","size":2.2},
"encoding":{"x":{"field":"d","type":"temporal","axis":null},"y":{"field":"o","type":"quantitative","axis":null},"y2":{"field":"c"},
"color":{"condition":{"test":"datum.c >= datum.o","value":"#2fb52f"},"value":"#e3261c"}}},
{"data":{"name":"ma"},"mark":{"type":"line","strokeWidth":1.3,"interpolate":"monotone"},
"encoding":{"x":{"field":"d","type":"temporal","axis":null},"y":{"field":"v","type":"quantitative","axis":null},
"color":{"field":"s","type":"nominal","scale":{"domain":["BOLL (20, 2)","MM (20)","MM (50)","MM (7)","MM (100)","MM (200)"],"range":["#f5a475","#4d7ef5","#ee2a2a","#259a25","#ff7f24","#8b1e1e"]},
"legend":{"orient":"top-left","direction":"horizontal","title":null,"symbolSize":0,"symbolStrokeWidth":0,"symbolOpacity":0,"labelFontSize":12,"labelOffset":-12,"columnPadding":15,"offset":4,"padding":0,"labelLimit":300,"encode":{"labels":{"update":{"fill":{"scale":"color","field":"value"}}}}}}}},
{"data":{"name":"segs"},"transform":[{"filter":"datum.k == 'red'"}],"mark":{"type":"rule","color":"#b00000","strokeWidth":1.2},
"encoding":{"x":{"field":"d","type":"temporal","axis":null},"x2":{"field":"d2"},"y":{"field":"v","type":"quantitative","axis":null},"y2":{"field":"v2"}}},
{"data":{"name":"segs"},"transform":[{"filter":"datum.k == 'green'"}],"mark":{"type":"rule","color":"#1f8a1f","strokeWidth":1.2},
"encoding":{"x":{"field":"d","type":"temporal","axis":null},"x2":{"field":"d2"},"y":{"field":"v","type":"quantitative","axis":null},"y2":{"field":"v2"}}},
{"data":{"name":"segs"},"transform":[{"filter":"datum.k == 'dash'"}],"mark":{"type":"rule","color":"#1f7a1f","strokeWidth":1.2,"strokeDash":[4,3]},
"encoding":{"x":{"field":"d","type":"temporal","axis":null},"x2":{"field":"d2"},"y":{"field":"v","type":"quantitative","axis":null},"y2":{"field":"v2"}}},
{"data":{"name":"segs"},"transform":[{"filter":"datum.k == 'black'"}],"mark":{"type":"rule","color":"#222222","strokeWidth":1.2},
"encoding":{"x":{"field":"d","type":"temporal","axis":null},"x2":{"field":"d2"},"y":{"field":"v","type":"quantitative","axis":null},"y2":{"field":"v2"}}},
{"data":{"name":"ann"},"mark":{"type":"text","align":"center","baseline":"middle","font":"Liberation Sans"},
"encoding":{"x":{"field":"d","type":"temporal","axis":null},"y":{"field":"v","type":"quantitative","axis":null},"text":{"field":"t"},
"fill":{"field":"tone","type":"nominal","scale":{"domain":["red","navy","green"],"range":["#c00000","#000080","#2e8b2e"]},"legend":null},
"size":{"field":"r","type":"ordinal","scale":{"domain":["l","m","s","xs","lv"],"range":[20,16,15,13,12]},"legend":null}}},
{"data":{"name":"last"},"transform":[{"filter":"datum.k == 'blue'"}],"mark":{"type":"bar","size":18,"color":"#3f6fe6","yOffset":3},
"encoding":{"x":{"datum":{"year":2025,"month":2,"date":16,"utc":true},"type":"temporal","axis":null},"x2":{"datum":{"year":2026,"month":6,"date":1,"utc":true}},"y":{"field":"v","type":"quantitative","axis":null}}},
{"data":{"name":"last"},"transform":[{"filter":"datum.k == 'red'"}],"mark":{"type":"bar","size":18,"color":"#b30000","yOffset":3},
"encoding":{"x":{"datum":{"year":2025,"month":2,"date":16,"utc":true},"type":"temporal","axis":null},"x2":{"datum":{"year":2026,"month":6,"date":1,"utc":true}},"y":{"field":"v","type":"quantitative","axis":null}}},
{"data":{"name":"last"},"mark":{"type":"text","align":"left","baseline":"middle","color":"#ffffff","fontSize":12,"yOffset":3,"font":"Liberation Sans"},
"encoding":{"x":{"datum":{"year":2025,"month":3,"date":24,"utc":true},"type":"temporal","axis":null},"y":{"field":"v","type":"quantitative","axis":null},"text":{"field":"t"}}}
]
}
